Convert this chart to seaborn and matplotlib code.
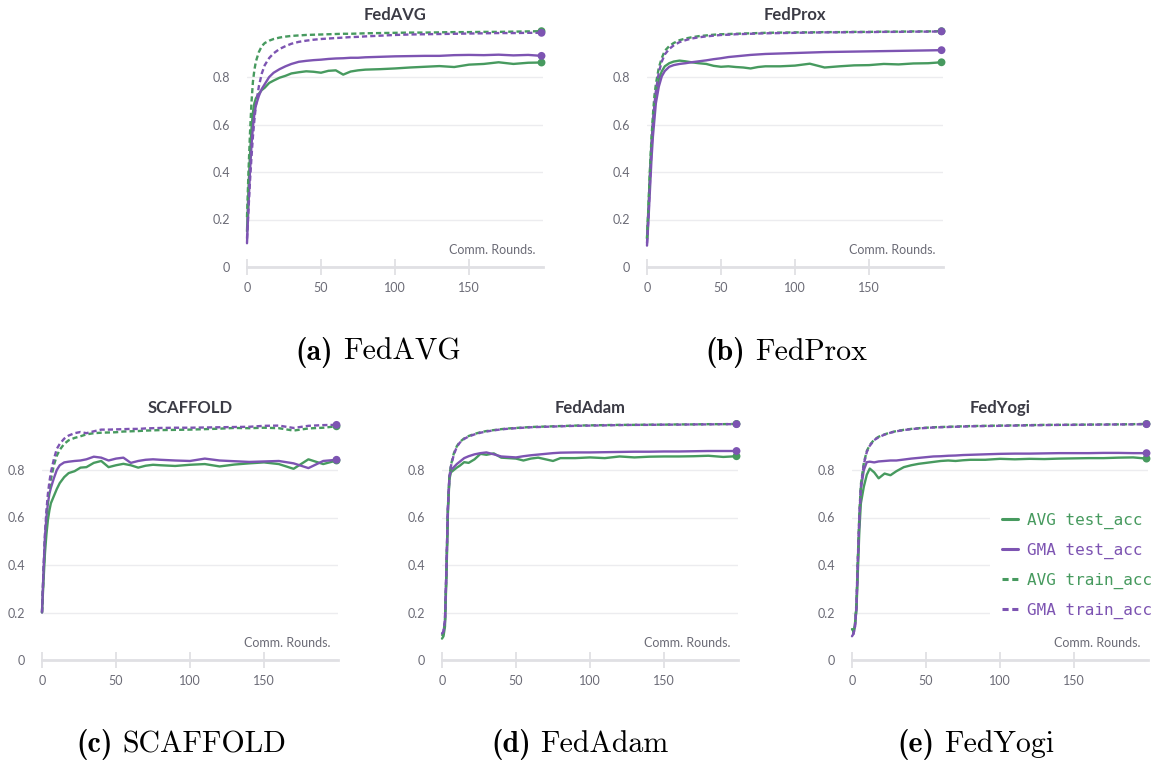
import numpy as np
import pandas as pd
import matplotlib
matplotlib.use("Agg")
import matplotlib.pyplot as plt
from matplotlib.lines import Line2D
from matplotlib.offsetbox import TextArea, HPacker, AnchoredOffsetbox
import seaborn as sns

# ---------------- data ----------------
ROUNDS = [0, 1, 2, 3, 4, 5, 6, 8, 10, 12, 15, 18, 22, 26, 30, 35, 40, 45, 50, 55,
          60, 65, 70, 75, 80, 90, 100, 110, 120, 130, 140, 150, 160, 170, 180, 190, 199]

SERIES = ["AVG test_acc", "GMA test_acc", "AVG train_acc", "GMA train_acc"]

# FedAVG
FEDAVG_AVG_TEST = [0.15, 0.33, 0.47, 0.58, 0.65, 0.69, 0.71, 0.73, 0.745, 0.755, 0.775, 0.785, 0.797, 0.805, 0.815, 0.82, 0.824, 0.822, 0.818, 0.826,
                   0.828, 0.81, 0.823, 0.828, 0.831, 0.833, 0.836, 0.84, 0.843, 0.846, 0.842, 0.852, 0.855, 0.862, 0.855, 0.86, 0.861]
FEDAVG_GMA_TEST = [0.10, 0.26, 0.40, 0.51, 0.59, 0.645, 0.68, 0.72, 0.75, 0.77, 0.80, 0.818, 0.833, 0.845, 0.855, 0.864, 0.868, 0.871, 0.873, 0.876,
                   0.878, 0.879, 0.881, 0.881, 0.883, 0.885, 0.887, 0.888, 0.889, 0.889, 0.892, 0.893, 0.892, 0.894, 0.891, 0.893, 0.889]
FEDAVG_AVG_TRAIN = [0.21, 0.40, 0.56, 0.69, 0.78, 0.83, 0.865, 0.905, 0.93, 0.943, 0.953, 0.96, 0.966, 0.97, 0.973, 0.975, 0.977, 0.978, 0.979, 0.98,
                    0.981, 0.982, 0.982, 0.983, 0.984, 0.985, 0.986, 0.987, 0.987, 0.988, 0.989, 0.989, 0.99, 0.99, 0.991, 0.992, 0.993]
FEDAVG_GMA_TRAIN = [0.12, 0.24, 0.36, 0.46, 0.55, 0.62, 0.68, 0.76, 0.815, 0.85, 0.88, 0.90, 0.918, 0.93, 0.94, 0.948, 0.953, 0.957, 0.96, 0.962,
                    0.964, 0.966, 0.968, 0.969, 0.971, 0.974, 0.977, 0.979, 0.98, 0.981, 0.982, 0.983, 0.984, 0.985, 0.985, 0.986, 0.986]

# FedProx
FEDPROX_AVG_TEST = [0.12, 0.25, 0.40, 0.52, 0.61, 0.68, 0.73, 0.79, 0.824, 0.845, 0.858, 0.865, 0.869, 0.866, 0.862, 0.858, 0.855, 0.847, 0.843, 0.845,
                    0.842, 0.84, 0.836, 0.842, 0.845, 0.845, 0.848, 0.856, 0.84, 0.845, 0.849, 0.85, 0.855, 0.853, 0.857, 0.858, 0.862]
FEDPROX_GMA_TEST = [0.09, 0.20, 0.325, 0.45, 0.55, 0.62, 0.69, 0.76, 0.803, 0.825, 0.843, 0.85, 0.855, 0.858, 0.862, 0.866, 0.87, 0.875, 0.879, 0.884,
                    0.887, 0.89, 0.893, 0.895, 0.897, 0.899, 0.901, 0.903, 0.905, 0.906, 0.907, 0.908, 0.909, 0.91, 0.911, 0.912, 0.913]
FEDPROX_AVG_TRAIN = [0.12, 0.26, 0.41, 0.54, 0.64, 0.72, 0.77, 0.84, 0.88, 0.91, 0.93, 0.943, 0.955, 0.962, 0.967, 0.972, 0.975, 0.978, 0.98, 0.981,
                     0.982, 0.983, 0.984, 0.985, 0.986, 0.987, 0.988, 0.988, 0.989, 0.989, 0.99, 0.99, 0.991, 0.991, 0.992, 0.992, 0.993]
FEDPROX_GMA_TRAIN = [0.10, 0.22, 0.36, 0.49, 0.60, 0.68, 0.74, 0.82, 0.865, 0.895, 0.918, 0.933, 0.947, 0.955, 0.962, 0.967, 0.971, 0.974, 0.977, 0.978,
                     0.98, 0.981, 0.982, 0.983, 0.984, 0.985, 0.986, 0.987, 0.988, 0.988, 0.989, 0.989, 0.99, 0.99, 0.991, 0.991, 0.992]

# SCAFFOLD
SCAFFOLD_AVG_TEST = [0.20, 0.33, 0.45, 0.53, 0.59, 0.63, 0.66, 0.69, 0.72, 0.745, 0.77, 0.787, 0.795, 0.81, 0.812, 0.83, 0.838, 0.812, 0.82, 0.826,
                     0.82, 0.81, 0.818, 0.822, 0.82, 0.817, 0.822, 0.825, 0.815, 0.823, 0.828, 0.832, 0.825, 0.805, 0.845, 0.825, 0.84]
SCAFFOLD_GMA_TEST = [0.20, 0.37, 0.52, 0.60, 0.66, 0.70, 0.725, 0.765, 0.80, 0.82, 0.832, 0.835, 0.838, 0.84, 0.845, 0.856, 0.852, 0.84, 0.848, 0.852,
                     0.83, 0.838, 0.843, 0.845, 0.843, 0.84, 0.838, 0.848, 0.84, 0.837, 0.834, 0.836, 0.838, 0.828, 0.808, 0.838, 0.843]
SCAFFOLD_AVG_TRAIN = [0.20, 0.36, 0.50, 0.60, 0.67, 0.72, 0.76, 0.82, 0.86, 0.885, 0.91, 0.925, 0.935, 0.942, 0.95, 0.955, 0.957, 0.958, 0.959, 0.962,
                      0.963, 0.964, 0.966, 0.967, 0.968, 0.969, 0.97, 0.972, 0.974, 0.977, 0.976, 0.978, 0.976, 0.966, 0.975, 0.978, 0.984]
SCAFFOLD_GMA_TRAIN = [0.20, 0.38, 0.53, 0.63, 0.70, 0.75, 0.79, 0.845, 0.889, 0.91, 0.932, 0.945, 0.955, 0.96, 0.955, 0.963, 0.97, 0.97, 0.971, 0.972,
                      0.973, 0.973, 0.975, 0.976, 0.977, 0.978, 0.978, 0.979, 0.98, 0.981, 0.982, 0.986, 0.987, 0.977, 0.986, 0.989, 0.99]

# FedAdam
FEDADAM_AVG_TEST = [0.09, 0.10, 0.14, 0.35, 0.62, 0.76, 0.79, 0.80, 0.81, 0.818, 0.833, 0.83, 0.845, 0.868, 0.864, 0.87, 0.852, 0.85, 0.848, 0.84,
                    0.848, 0.852, 0.845, 0.838, 0.85, 0.85, 0.853, 0.85, 0.857, 0.853, 0.856, 0.857, 0.857, 0.858, 0.86, 0.855, 0.858]
FEDADAM_GMA_TEST = [0.11, 0.12, 0.16, 0.38, 0.64, 0.77, 0.80, 0.812, 0.825, 0.835, 0.85, 0.858, 0.866, 0.871, 0.874, 0.866, 0.857, 0.855, 0.853, 0.858,
                    0.862, 0.865, 0.868, 0.871, 0.873, 0.874, 0.874, 0.875, 0.876, 0.877, 0.877, 0.878, 0.878, 0.879, 0.88, 0.88, 0.88]
FEDADAM_AVG_TRAIN = [0.10, 0.11, 0.16, 0.38, 0.64, 0.77, 0.82, 0.87, 0.90, 0.918, 0.933, 0.943, 0.952, 0.959, 0.964, 0.968, 0.972, 0.975, 0.977, 0.979,
                     0.981, 0.982, 0.983, 0.984, 0.985, 0.987, 0.988, 0.989, 0.99, 0.99, 0.991, 0.991, 0.992, 0.992, 0.993, 0.993, 0.994]
FEDADAM_GMA_TRAIN = [0.11, 0.12, 0.17, 0.40, 0.65, 0.77, 0.815, 0.865, 0.897, 0.915, 0.931, 0.941, 0.95, 0.957, 0.962, 0.967, 0.971, 0.974, 0.976, 0.978,
                     0.98, 0.981, 0.982, 0.983, 0.984, 0.986, 0.987, 0.988, 0.989, 0.99, 0.99, 0.991, 0.991, 0.992, 0.992, 0.993, 0.993]

# FedYogi
FEDYOGI_AVG_TEST = [0.13, 0.12, 0.15, 0.21, 0.38, 0.55, 0.66, 0.73, 0.78, 0.806, 0.79, 0.765, 0.785, 0.778, 0.795, 0.812, 0.82, 0.826, 0.83, 0.834,
                    0.838, 0.84, 0.838, 0.841, 0.843, 0.843, 0.847, 0.845, 0.847, 0.846, 0.848, 0.849, 0.85, 0.85, 0.852, 0.853, 0.848]
FEDYOGI_GMA_TEST = [0.10, 0.11, 0.14, 0.22, 0.42, 0.60, 0.72, 0.80, 0.833, 0.835, 0.832, 0.836, 0.838, 0.84, 0.84, 0.844, 0.848, 0.851, 0.854, 0.857,
                    0.858, 0.86, 0.861, 0.863, 0.864, 0.866, 0.868, 0.869, 0.869, 0.87, 0.871, 0.871, 0.871, 0.872, 0.872, 0.871, 0.871]
FEDYOGI_AVG_TRAIN = [0.12, 0.12, 0.15, 0.24, 0.44, 0.62, 0.74, 0.83, 0.88, 0.905, 0.928, 0.94, 0.95, 0.958, 0.964, 0.969, 0.973, 0.976, 0.978, 0.98,
                     0.981, 0.982, 0.983, 0.984, 0.985, 0.986, 0.987, 0.988, 0.989, 0.99, 0.99, 0.991, 0.991, 0.992, 0.992, 0.993, 0.994]
FEDYOGI_GMA_TRAIN = [0.11, 0.11, 0.14, 0.23, 0.43, 0.61, 0.73, 0.825, 0.876, 0.902, 0.926, 0.938, 0.949, 0.957, 0.963, 0.968, 0.972, 0.975, 0.977, 0.979,
                     0.98, 0.981, 0.982, 0.983, 0.984, 0.985, 0.986, 0.987, 0.988, 0.989, 0.99, 0.99, 0.991, 0.991, 0.992, 0.992, 0.993]

TITLES = ["FedAVG", "FedProx", "SCAFFOLD", "FedAdam", "FedYogi"]
CAPTION_TAGS = ["(a)", "(b)", "(c)", "(d)", "(e)"]
PANEL_DATA = [
    [FEDAVG_AVG_TEST, FEDAVG_GMA_TEST, FEDAVG_AVG_TRAIN, FEDAVG_GMA_TRAIN],
    [FEDPROX_AVG_TEST, FEDPROX_GMA_TEST, FEDPROX_AVG_TRAIN, FEDPROX_GMA_TRAIN],
    [SCAFFOLD_AVG_TEST, SCAFFOLD_GMA_TEST, SCAFFOLD_AVG_TRAIN, SCAFFOLD_GMA_TRAIN],
    [FEDADAM_AVG_TEST, FEDADAM_GMA_TEST, FEDADAM_AVG_TRAIN, FEDADAM_GMA_TRAIN],
    [FEDYOGI_AVG_TEST, FEDYOGI_GMA_TEST, FEDYOGI_AVG_TRAIN, FEDYOGI_GMA_TRAIN],
]
X_TICKS = [0, 50, 100, 150]
Y_TICKS = [0, 0.2, 0.4, 0.6, 0.8]
Y_TICK_LABELS = ["0", "0.2", "0.4", "0.6", "0.8"]

# ---------------- style ----------------
GREEN = "#479A5F"
PURPLE = "#7D54B2"
PALETTE = {SERIES[0]: GREEN, SERIES[1]: PURPLE, SERIES[2]: GREEN, SERIES[3]: PURPLE}
DASHES = {SERIES[0]: "", SERIES[1]: "", SERIES[2]: (2.2, 1.3), SERIES[3]: (2.2, 1.3)}
TICK_COLOR = "#6b6b76"
AXIS_COLOR = "#e0e0e4"

sns.set_theme(style="white")
plt.rcParams["font.family"] = ["Lato", "DejaVu Sans"]
plt.rcParams["mathtext.fontset"] = "cm"

W, H = 1158, 766
fig = plt.figure(figsize=(W / 100, H / 100), dpi=100)

# pixel position of (round 0, acc 0) for each panel
ORIGINS = [(247, 267), (647, 267), (42, 660), (442, 660), (852, 660)]
CAPTION_POS = [(378, 352), (786, 352), (181, 745), (580, 745), (976, 745)]
PX_PER_ROUND = 1.48
PX_PER_UNIT = 237.5

for k, title in enumerate(TITLES):
    x0, y0 = ORIGINS[k]
    ax = fig.add_axes([x0 / W, (H - y0) / H, 200 * PX_PER_ROUND / W, PX_PER_UNIT / H])
    rows = []
    for name, vals in zip(SERIES, PANEL_DATA[k]):
        for r, v in zip(ROUNDS, vals):
            rows.append({"round": r, "acc": v, "series": name})
    df = pd.DataFrame(rows)
    sns.lineplot(data=df, x="round", y="acc", hue="series", style="series",
                 hue_order=SERIES, style_order=SERIES, palette=PALETTE, dashes=DASHES,
                 linewidth=1.7, estimator=None, sort=False, legend=False, ax=ax,
                 clip_on=False)
    last = df[df["round"] == ROUNDS[-1]]
    sns.scatterplot(data=last, x="round", y="acc", hue="series", hue_order=SERIES,
                    palette=PALETTE, s=32, edgecolor="none", legend=False, ax=ax,
                    clip_on=False, zorder=5)

    ax.set_xlim(0, 200)
    ax.set_ylim(0, 1.0)
    ax.set_xticks(X_TICKS)
    ax.set_yticks(Y_TICKS)
    ax.set_yticklabels(Y_TICK_LABELS)
    ax.set_xlabel("")
    ax.set_ylabel("")
    ax.grid(axis="y", color="#ececef", linewidth=1.0)
    ax.grid(axis="x", visible=False)
    for s in ["left", "right", "top"]:
        ax.spines[s].set_visible(False)
    ax.spines["bottom"].set_color(AXIS_COLOR)
    ax.spines["bottom"].set_linewidth(2.0)
    ax.tick_params(axis="x", direction="inout", length=12, width=1.3, color=AXIS_COLOR,
                   pad=5, labelsize=9, labelcolor=TICK_COLOR, bottom=True)
    ax.tick_params(axis="y", length=0, pad=12, labelsize=9, labelcolor=TICK_COLOR)
    ax.set_title(title, fontsize=12, fontweight="bold", color="#3b3b45", pad=7)
    ax.text(0.975, 0.045, "Comm. Rounds.", transform=ax.transAxes, ha="right",
            va="bottom", fontsize=9, color=TICK_COLOR)

    # caption: bold tag + roman name, in Computer Modern
    cx, cy = CAPTION_POS[k]
    tag = TextArea(CAPTION_TAGS[k], textprops=dict(family="cmb10", size=21.5, color="black"))
    nm = TextArea(title, textprops=dict(family="cmr10", size=21.5, color="black"))
    pack = HPacker(children=[tag, nm], sep=7, align="baseline", pad=0)
    box = AnchoredOffsetbox(loc="center", child=pack, frameon=False, pad=0, borderpad=0,
                            bbox_to_anchor=(cx / W, 1 - cy / H),
                            bbox_transform=fig.transFigure)
    fig.add_artist(box)

handles = [
    Line2D([0], [0], color=GREEN, lw=2.2),
    Line2D([0], [0], color=PURPLE, lw=2.2),
    Line2D([0], [0], color=GREEN, lw=2.2, linestyle=(0, (2, 1.2))),
    Line2D([0], [0], color=PURPLE, lw=2.2, linestyle=(0, (2, 1.2))),
]
fig.legend(handles, SERIES, loc="upper left", bbox_to_anchor=(990 / W, 1 - 501 / H),
           frameon=True, fancybox=False, facecolor="white", edgecolor="none", framealpha=1,
           prop={"family": "DejaVu Sans Mono", "size": 11.5}, labelcolor="linecolor",
           handlelength=1.0, handletextpad=0.55, labelspacing=0.85, borderpad=0.75,
           borderaxespad=0)

fig.savefig("out.png", dpi=100)
